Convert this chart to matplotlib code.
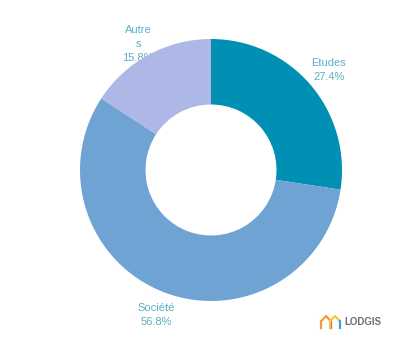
import matplotlib
matplotlib.use("Agg")
import matplotlib.pyplot as plt

categories = ["Etudes", "Société", "Autres"]
shares = [27.4, 56.8, 15.8]
label_lines = ["Etudes", "Société", "Autre\ns"]
colors = ["#0090b4", "#6fa3d4", "#adb8e6"]
text_color = "#5aafc8"

W, H = 400, 350
fig = plt.figure(figsize=(W / 100, H / 100), dpi=100)
ax = fig.add_axes([0, 0, 1, 1])

cx, cy, r = 211, H - 170, 131
wedges, _ = ax.pie(
    shares, colors=colors, startangle=90, counterclock=False,
    center=(cx, cy), radius=r, frame=True,
    wedgeprops=dict(width=r * 0.5, linewidth=0, zorder=3),
)
ax.set_xlim(0, W)
ax.set_ylim(0, H)
ax.set_aspect("equal")
ax.axis("off")

# Slice labels (placed outside the ring, drawn beneath the wedges)
label_pos = {"Etudes": (329, H - 70), "Société": (156, H - 315), "Autres": (138, H - 44)}
for cat, name, val in zip(categories, label_lines, shares):
    x, y = label_pos[cat]
    ax.text(x, y, f"{name}\n{val:.1f}%", ha="center", va="center",
            color=text_color, fontsize=8, family="Liberation Sans",
            linespacing=1.5, zorder=1)

# LODGIS logo: two overlapping house outlines plus wordmark
def house(x0, w, y_base, h, roof_col, wall_col):
    peak = (x0 + w / 2, y_base + h)
    eave_l = (x0, y_base + h * 0.55)
    eave_r = (x0 + w, y_base + h * 0.55)
    ax.plot([eave_l[0], peak[0], eave_r[0]], [eave_l[1], peak[1], eave_r[1]],
            color=roof_col, lw=1.6, solid_capstyle="round", zorder=5)
    ax.plot([x0, x0], [y_base, eave_l[1]], color=roof_col, lw=1.6, zorder=5)
    ax.plot([x0 + w, x0 + w], [y_base, eave_r[1]], color=wall_col, lw=1.6, zorder=5)

house(321, 10, H - 328, 12, "#f39c3a", "#e8504a")
house(330, 10, H - 328, 12, "#f5c842", "#3ea0dc")
ax.text(344, H - 322, "LODGIS", ha="left", va="center", color="#707070",
        fontsize=7, fontweight="bold", family="Liberation Sans", zorder=5)

fig.savefig("out.png", dpi=100, facecolor="white")
